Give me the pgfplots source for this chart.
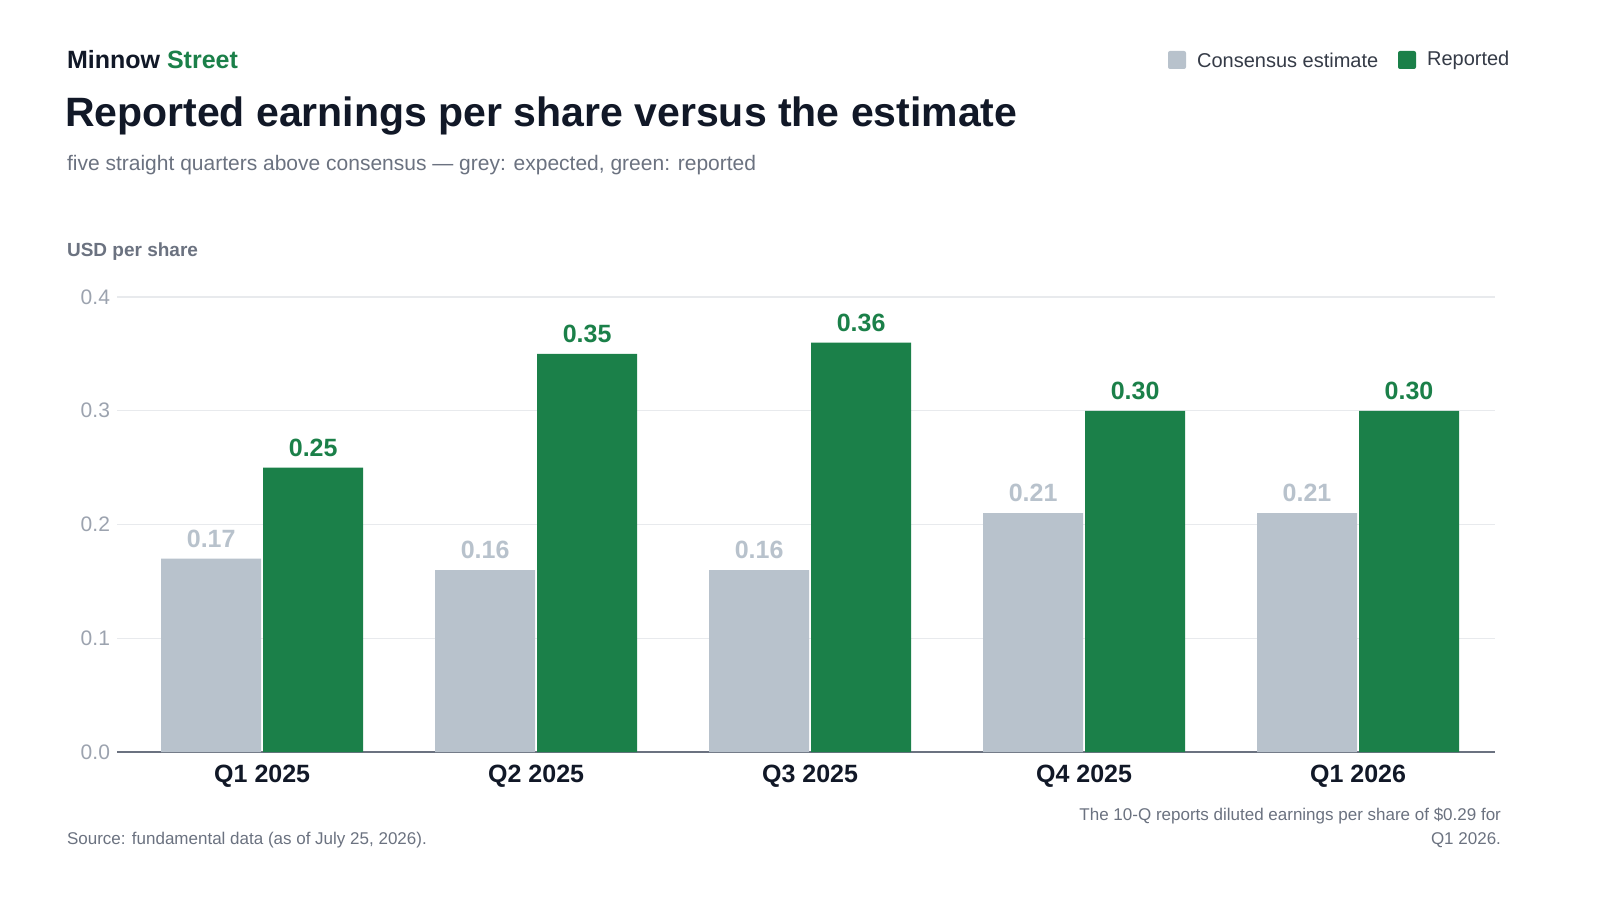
\documentclass[border=0pt]{standalone}
\usepackage{pgfplots}
\pgfplotsset{compat=1.18}
\usepackage{fontspec}
\setmainfont{Liberation Sans}
\definecolor{grn}{HTML}{1B8049}
\definecolor{gry}{HTML}{B8C2CC}
\definecolor{dark}{HTML}{111827}
\definecolor{mid}{HTML}{6B7280}
\definecolor{lt}{HTML}{9CA3AF}
\definecolor{grid}{HTML}{E8EAED}
\begin{document}
\begin{tikzpicture}
\path[use as bounding box, fill=white] (0,0) rectangle (800pt,450pt);
\begin{axis}[
  at={(58.5pt,74pt)}, anchor=south west, scale only axis,
  width=689pt, height=227.5pt,
  xmin=-0.53, xmax=4.5, ymin=0, ymax=0.4,
  xtick={0,1,2,3,4},
  xticklabels={Q1 2025,Q2 2025,Q3 2025,Q4 2025,Q1 2026},
  xticklabel style={font=\bfseries\fontsize{12.5}{14}\selectfont, text=dark, yshift=-3pt},
  ytick={0,0.1,0.2,0.3,0.4},
  yticklabel style={font=\fontsize{10.5}{12}\selectfont, text=lt},
  /pgf/number format/assume math mode=true,
  yticklabel={\pgfmathprintnumber[fixed,fixed zerofill,precision=1]{\tick}},
  major tick length=0pt,
  axis x line*=bottom, axis y line*=left,
  x axis line style={draw=mid, line width=0.8pt, -},
  y axis line style={draw=none},
  ymajorgrids, grid style={draw=grid, line width=0.6pt},
  ybar, bar width=50pt,
  nodes near coords={\pgfmathprintnumber[fixed,fixed zerofill,precision=2]{\pgfplotspointmeta}},
  nodes near coords style={font=\bfseries\fontsize{12.5}{14}\selectfont, yshift=2pt},
  clip=false,
]
\addplot[fill=gry, draw=none, bar shift=-25.5pt, nodes near coords style={text=gry}]
 coordinates {(0,0.17) (1,0.16) (2,0.16) (3,0.21) (4,0.21)};
\addplot[fill=grn, draw=none, bar shift=25.5pt, nodes near coords style={text=grn}]
 coordinates {(0,0.25) (1,0.35) (2,0.36) (3,0.30) (4,0.30)};
\end{axis}
\node[anchor=west, text=dark, font=\bfseries\fontsize{12.5}{14}\selectfont] at (30pt,420pt) {Minnow \textcolor{grn}{Street}};
\node[anchor=west, text=dark, font=\bfseries\fontsize{20.5}{24}\selectfont] at (29pt,392pt) {Reported earnings per share versus the estimate};
\node[anchor=west, text=mid, font=\fontsize{10.5}{12}\selectfont] at (30pt,367.5pt) {five straight quarters above consensus — grey: expected, green: reported};
\node[anchor=west, text=mid, font=\bfseries\fontsize{9.5}{11}\selectfont] at (30pt,324pt) {USD per share};
\fill[gry, rounded corners=1pt] (584pt,415.5pt) rectangle (593pt,424.5pt);
\node[anchor=west, text=dark!85, font=\fontsize{10}{12}\selectfont] at (595pt,420pt) {Consensus estimate};
\fill[grn, rounded corners=1pt] (699pt,415.5pt) rectangle (708pt,424.5pt);
\node[anchor=west, text=dark!85, font=\fontsize{10}{12}\selectfont] at (710pt,420pt) {Reported};
\node[anchor=west, text=mid, font=\fontsize{8.5}{10}\selectfont] at (30pt,30pt) {Source: fundamental data (as of July 25, 2026).};
\node[anchor=east, text=mid, font=\fontsize{8.5}{10}\selectfont] at (754pt,42pt) {The 10-Q reports diluted earnings per share of \$0.29 for};
\node[anchor=east, text=mid, font=\fontsize{8.5}{10}\selectfont] at (754pt,30pt) {Q1 2026.};
\end{tikzpicture}
\end{document}
